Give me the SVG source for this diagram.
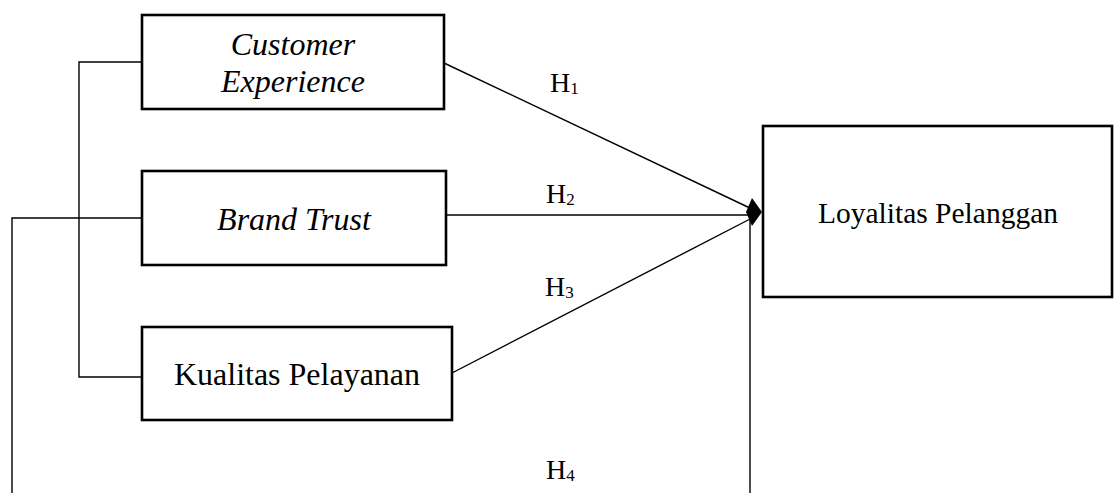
<svg xmlns="http://www.w3.org/2000/svg" width="1114" height="493" viewBox="0 0 1114 493">
<style>
.box{fill:#fff;stroke:#000;stroke-width:2.6}
.t{font-family:"Liberation Serif","Times New Roman",serif;fill:#000;text-anchor:middle}
.i{font-style:italic}
.c{fill:none;stroke:#000;stroke-width:1.4}
.h{font-family:"Liberation Serif","Times New Roman",serif;fill:#000;font-size:28px}
.s{font-size:17px}
</style>
<rect width="1114" height="493" fill="#fff"/>
<g id="connectors">
<polyline class="c" points="141,62 79,62 79,377 141,377"/>
<polyline class="c" points="141,218 12,218 12,493"/>
<line class="c" x1="444" y1="63" x2="752" y2="209"/>
<line class="c" x1="446" y1="215" x2="752" y2="215"/>
<line class="c" x1="452" y1="373" x2="752" y2="218"/>
<line class="c" x1="750" y1="216" x2="750" y2="493"/>
<polygon points="746,212 752,198 762,212 752,226" fill="#000"/>
<text class="h" x="550" y="92">H<tspan class="s" dy="2">1</tspan></text>
<text class="h" x="546" y="203">H<tspan class="s" dy="2">2</tspan></text>
<text class="h" x="545" y="296">H<tspan class="s" dy="2">3</tspan></text>
<text class="h" x="546" y="479">H<tspan class="s" dy="2">4</tspan></text>
</g>
<g id="customer-experience">
<rect class="box" x="142" y="15" width="302" height="94"/>
<text class="t i" x="293" y="55" font-size="32">Customer</text>
<text class="t i" x="293" y="92" font-size="32">Experience</text>
</g>
<g id="brand-trust">
<rect class="box" x="142" y="171" width="304" height="94"/>
<text class="t i" x="294" y="230" font-size="32">Brand Trust</text>
</g>
<g id="kualitas-pelayanan">
<rect class="box" x="142" y="327" width="310" height="93"/>
<text class="t" x="297" y="385" font-size="32">Kualitas Pelayanan</text>
</g>
<g id="loyalitas-pelanggan">
<rect class="box" x="763" y="126" width="349" height="171"/>
<text class="t" x="938" y="223" font-size="29.5">Loyalitas Pelanggan</text>
</g>
</svg>
